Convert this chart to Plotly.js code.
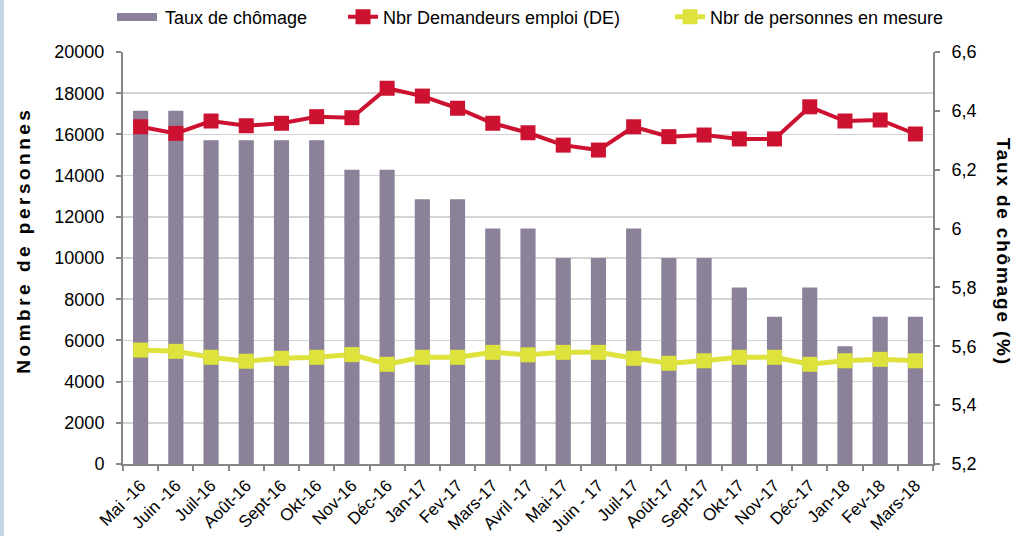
<!DOCTYPE html>
<html><head><meta charset="utf-8">
<script src="https://cdn.plot.ly/plotly-3.0.1.min.js"></script>
<style>
html,body{margin:0;padding:0;background:#fff;overflow:hidden}
#strip{position:absolute;left:0;top:0;width:4px;height:536px;background:#c3d6e6;z-index:10}
#chart{width:1013px;height:536px}
.annotation[data-index="0"] .annotation-text{letter-spacing:3.5px}
.annotation[data-index="1"] .annotation-text{letter-spacing:1.8px}
g.legend .legendpoints path{display:none}
</style></head>
<body><div id="strip"></div><div id="chart"></div>
<script>
const months = ["Mai -16","Juin -16","Juil-16","Août-16","Sept-16","Okt-16","Nov-16","Déc-16","Jan-17","Fev-17","Mars-17","Avril -17","Mai-17","Juin - 17","Juil-17","Août-17","Sept-17","Okt-17","Nov-17","Déc-17","Jan-18","Fev-18","Mars-18"];
const tauxChomage = [6.4,6.4,6.3,6.3,6.3,6.3,6.2,6.2,6.1,6.1,6.0,6.0,5.9,5.9,6.0,5.9,5.9,5.8,5.7,5.8,5.6,5.7,5.7];
const demandeurs = [16370,16050,16650,16420,16540,16860,16810,18240,17860,17270,16540,16080,15480,15240,16370,15890,15970,15780,15780,17340,16650,16700,16020];
const mesures = [5530,5470,5180,4990,5130,5180,5310,4840,5180,5180,5420,5300,5420,5420,5130,4890,5010,5180,5180,4840,5010,5080,5010];

const FONT = "Liberation Sans, Arial, sans-serif";
const AXIS = "#868686";
const BARCOLOR = "#8b8199";
const legendFont = {family:FONT, size:18, color:"#000"};
function leg(x){
  return {xref:"container", yref:"container", x:x, xanchor:"left", y:0.968, yanchor:"middle",
          orientation:"h", font:legendFont, bgcolor:"rgba(0,0,0,0)", borderwidth:0};
}

const data = [
  {type:"bar", name:"Taux de chômage", x:months, y:tauxChomage, yaxis:"y", legend:"legend",
   marker:{color:BARCOLOR, line:{width:0}}},
  {type:"scatter", mode:"lines+markers", name:"Nbr Demandeurs emploi (DE)", x:months, y:demandeurs, yaxis:"y2", legend:"legend2",
   line:{color:"#cc1230", width:4}, marker:{symbol:"square", size:15, color:"#cc1230"}},
  {type:"scatter", mode:"lines+markers", name:"Nbr de personnes en mesure", x:months, y:mesures, yaxis:"y2", legend:"legend3",
   line:{color:"#dde33c", width:5}, marker:{symbol:"square", size:15, color:"#dde33c"}}
];

const layout = {
  width:1013, height:536,
  margin:{l:123, r:80, t:52, b:72, autoexpand:false},
  paper_bgcolor:"#fff", plot_bgcolor:"rgba(0,0,0,0)",
  font:{family:FONT, size:18, color:"#000"},
  separators:", ",
  bargap:0.57,
  hovermode:false,
  showlegend:true,
  legend:leg(0.1234),
  legend2:leg(0.3386),
  legend3:leg(0.6614),
  xaxis:{type:"category", range:[-0.5, months.length-0.5], tickangle:-45, tickfont:{family:FONT, size:17}, automargin:false,
         showline:true, linecolor:AXIS, linewidth:2, ticks:"outside", tickson:"boundaries", ticklabelstandoff:3,
         ticklen:5, tickcolor:AXIS, tickwidth:2, showgrid:false, zeroline:false, fixedrange:true},
  yaxis:{side:"right", range:[5.2,6.6], tick0:5.2, dtick:0.2, showgrid:false, zeroline:false, automargin:false,
         showline:true, linecolor:AXIS, linewidth:2, ticks:"outside", ticklen:5, tickcolor:AXIS, tickwidth:2,
         ticklabelstandoff:8, tickfont:{family:FONT, size:18}},
  yaxis2:{overlaying:"y", side:"left", anchor:"x", range:[0,20000], dtick:2000, tick0:0, tickformat:"d", automargin:false,
          showgrid:true, gridcolor:"#d4d4d4", gridwidth:1.5, zeroline:false,
          showline:true, linecolor:AXIS, linewidth:2, ticks:"outside", ticklen:5, tickcolor:AXIS, tickwidth:2,
          ticklabelstandoff:8, tickfont:{family:FONT, size:18}},
  shapes:[
    {type:"rect", xref:"paper", yref:"paper", x0:-0.0074, x1:0.0420, y0:1.0752, y1:1.0947,
     fillcolor:BARCOLOR, line:{width:0}, layer:"above"}
  ],
  annotations:[
    {text:"<b>Nombre de personnes</b>", xref:"paper", yref:"paper", x:-0.1235, y:0.545,
     xanchor:"center", yanchor:"middle", textangle:-90, showarrow:false,
     font:{family:FONT, size:19, color:"#000"}},
    {text:"<b>Taux de chômage (%)</b>", xref:"paper", yref:"paper", x:1.0864, y:0.515,
     xanchor:"center", yanchor:"middle", textangle:90, showarrow:false,
     font:{family:FONT, size:19, color:"#000"}}
  ]
};

Plotly.newPlot("chart", data, layout, {displayModeBar:false, staticPlot:true});
</script>
</body></html>
